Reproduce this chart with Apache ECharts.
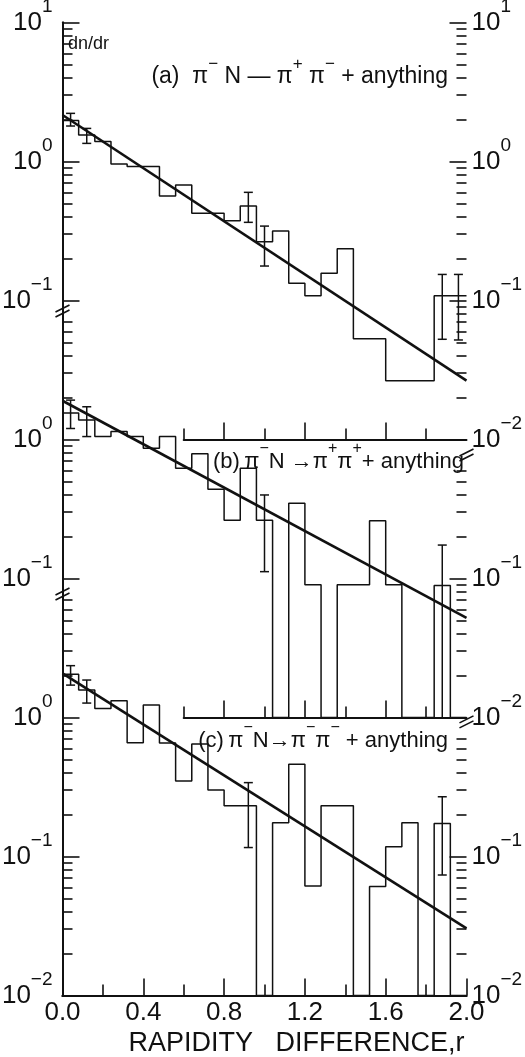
<!DOCTYPE html>
<html>
<head>
<meta charset="utf-8">
<script src="https://cdn.jsdelivr.net/npm/echarts@6/dist/echarts.min.js"></script>
<style>
  html, body { margin: 0; padding: 0; background: #fff; }
  #chart { width: 525px; height: 1057px; }
</style>
</head>
<body>
<div id="chart"></div>
<script>
// dn/dr versus rapidity difference r for three pion-pair charge combinations,
// drawn as three stacked logarithmic panels that share one r axis.

const FLOOR = 0.01;          // bottom of each panel; empty bins are drawn on it
const R_END = 2.0;           // right edge of the last bin

// left edges of the 0.08-wide rapidity bins
const binLeft = [0.00, 0.08, 0.16, 0.24, 0.32, 0.40, 0.48, 0.56, 0.64, 0.72,
                 0.80, 0.88, 0.96, 1.04, 1.12, 1.20, 1.28, 1.36, 1.44, 1.52,
                 1.60, 1.68, 1.76, 1.84, 1.92];

// (a) pi- N -> pi+ pi- + anything
const dnA = [1.97, 1.55, 1.39, 0.96, 0.92, 0.92, 0.565, 0.677, 0.424, 0.424,
             0.375, 0.479, 0.265, 0.316, 0.133, 0.108, 0.157, 0.236, 0.053, 0.053,
             0.0265, 0.0265, 0.0265, 0.108, 0.108];
// (b) pi- N -> pi+ pi+ + anything
const dnB = [1.55, 1.38, 1.05, 1.14, 1.05, 0.864, 1.05, 0.62, 0.79, 0.438,
             0.263, 0.62, 0.263, 0, 0.348, 0.09, 0, 0.09, 0.09, 0.26,
             0.09, 0, 0, 0.089, 0];
// (c) pi- N -> pi- pi- + anything
const dnC = [2.05, 1.58, 1.16, 1.32, 0.659, 1.23, 0.655, 0.349, 0.645, 0.301,
             0.232, 0.232, 0, 0.175, 0.461, 0.0613, 0.232, 0.232, 0, 0.0608,
             0.1175, 0.175, 0, 0.173, 0];

// error bars: [r, low, high]; a low of 0 runs off the bottom of the panel
const errA = [[0.04, 1.80, 2.22], [0.12, 1.35, 1.73], [0.92, 0.365, 0.60],
              [1.00, 0.177, 0.343], [1.88, 0.0526, 0.154], [1.96, 0.052, 0.154]];
const errB = [[0.04, 1.20, 1.92], [0.12, 1.05, 1.72], [1.00, 0.112, 0.399],
              [1.88, 0, 0.174]];
const errC = [[0.04, 1.71, 2.36], [0.12, 1.27, 1.86], [0.92, 0.116, 0.34],
              [1.88, 0.0736, 0.269]];

// exponential fits, given by their end points
const fitA = [[0, 2.16], [2.0, 0.0265]];
const fitB = [[0, 1.90], [2.0, 0.052]];
const fitC = [[0, 2.08], [2.0, 0.0304]];

// tick values of each panel's left / right scale
const leftMajor  = [[10, 1, 0.1], [1, 0.1], [1, 0.1, 0.01]];
const leftMinor  = [
  [9, 8, 7, 6, 5, 4, 3, 2, 0.9, 0.8, 0.7, 0.6, 0.5, 0.4, 0.3, 0.2],
  [7, 6, 5, 4, 3, 2, 0.9, 0.8, 0.7, 0.6, 0.5, 0.4, 0.3, 0.2],
  [7, 6, 5, 4, 3, 2, 0.9, 0.8, 0.7, 0.6, 0.5, 0.4, 0.3, 0.2,
   0.09, 0.08, 0.07, 0.06, 0.05, 0.04, 0.03, 0.02]
];
const rightMajor = [[10, 1, 0.1, 0.01], [0.1, 0.01], [0.1, 0.01]];
const rightMinor = [
  [9, 8, 7, 6, 5, 4, 3, 2, 0.9, 0.8, 0.7, 0.6, 0.5, 0.4, 0.3, 0.2,
   0.09, 0.08, 0.07, 0.06, 0.05, 0.04, 0.03, 0.02],
  [0.6, 0.5, 0.4, 0.3, 0.2, 0.09, 0.08, 0.07, 0.06, 0.05, 0.04, 0.03, 0.02],
  [0.7, 0.6, 0.5, 0.4, 0.3, 0.2, 0.09, 0.08, 0.07, 0.06, 0.05, 0.04, 0.03, 0.02]
];

// short r axes under panels (a) and (b)
const PART_FROM = 0.6;
const partMajor = [0.8, 1.2, 1.6];
const partMinor = [0.6, 1.0, 1.4, 1.8];

const titles = [
  '{t|(a)  \u03c0}{s|\u2212}{t| N \u2014 \u03c0}{s|+}{t| \u03c0}{s|\u2212}{t| + anything}',
  '{t|(b)\u2009\u03c0}{s|\u2212}{t|N \u2192\u03c0}{s|+}{t|\u03c0}{s|+}{t|+ anything}',
  '{t|(c)\u2009\u03c0}{s|\u2212}{t|N\u2192\u03c0}{s|\u2212}{t|\u03c0}{s|\u2212}{t| + anything}'
];

// ---- layout ----
const X0 = 62.5, PW = 404;      // plot left edge and width
const TOP = 22.5, DEC = 139;    // top edge and height of one decade
const INK = '#111';
const FONT = '"Liberation Sans", "DejaVu Sans", Arial, sans-serif';
const MAJOR_LEN = 17, MINOR_LEN = 10;

function stepData(vals) {
  const pts = binLeft.map((r, i) => [r, Math.max(vals[i], FLOOR)]);
  pts.push([R_END, Math.max(vals[vals.length - 1], FLOOR)]);
  return pts;
}

function errData(list) {
  return list.map(e => [e[0], Math.max(e[1], FLOOR), e[2], e[1] > 0 ? 0 : 1]);
}

function renderErr(params, api) {
  const x = api.value(0), lo = api.value(1), hi = api.value(2), open = api.value(3);
  const t = api.coord([x, hi]);
  const b = api.coord([x, lo]);
  const h = 4.5;
  const st = { stroke: INK, lineWidth: 1.5 };
  const children = [
    { type: 'line', shape: { x1: t[0], y1: t[1], x2: b[0], y2: b[1] }, style: st },
    { type: 'line', shape: { x1: t[0] - h, y1: t[1], x2: t[0] + h, y2: t[1] }, style: st }
  ];
  if (!open) {
    children.push({ type: 'line', shape: { x1: b[0] - h, y1: b[1], x2: b[0] + h, y2: b[1] }, style: st });
  }
  return { type: 'group', children };
}

function powLabel(v) {
  const e = Math.round(Math.log10(v));
  return '{b|10}{s|' + (e < 0 ? '\u2212' + (-e) : e) + '}';
}

// base "10" sits on the tick, the exponent is raised about half a digit
const powRich = {
  b: { fontSize: 26, lineHeight: 50, verticalAlign: 'middle', fontFamily: FONT, color: INK },
  s: { fontSize: 19, lineHeight: 19, verticalAlign: 'top', fontFamily: FONT, color: INK }
};

// ---- grids ----
const grids = [{ left: X0, width: PW, top: TOP, height: 7 * DEC }];
for (let k = 0; k < 3; k++) {
  grids.push({ left: X0, width: PW, top: TOP + 2 * k * DEC, height: 3 * DEC });
}
for (let k = 0; k < 2; k++) {
  const l = X0 + PW * PART_FROM / R_END;
  grids.push({ left: l, width: X0 + PW - l, top: TOP + (3 + 2 * k) * DEC - 20, height: 20 });
}
grids.forEach(g => { g.containLabel = false; g.outerBoundsMode = 'none'; g.show = false; });

// ---- x axes ----
const xAxes = [
  { // shared r axis
    type: 'value', gridIndex: 0, position: 'bottom', min: 0, max: R_END, interval: 0.4,
    axisLine: { show: true, lineStyle: { color: INK, width: 2 } },
    axisTick: { show: true, inside: true, length: MAJOR_LEN, lineStyle: { color: INK, width: 1.6 } },
    minorTick: { show: true, splitNumber: 2, length: 11, lineStyle: { color: INK, width: 1.6 } },
    splitLine: { show: false },
    axisLabel: { show: true, margin: 4, formatter: v => v.toFixed(1),
                 fontSize: 26, fontFamily: FONT, color: INK },
    name: 'RAPIDITY   DIFFERENCE,r', nameLocation: 'middle', nameGap: 34,
    nameTextStyle: { fontSize: 27, fontFamily: FONT, color: INK, padding: [0, 0, 0, 64] }
  },
  { // top frame line
    type: 'value', gridIndex: 0, position: 'top', min: 0, max: R_END,
    axisLine: { show: true, lineStyle: { color: INK, width: 2 } },
    axisTick: { show: false }, axisLabel: { show: false }, splitLine: { show: false }
  }
];
for (let k = 0; k < 3; k++) {
  xAxes.push({ type: 'value', gridIndex: 1 + k, min: 0, max: R_END, show: false });
}
for (let k = 0; k < 2; k++) {
  [[partMajor, MAJOR_LEN, true], [partMinor, 11, false]].forEach(([vals, len, line]) => {
    xAxes.push({
      type: 'value', gridIndex: 4 + k, position: 'bottom', min: PART_FROM, max: R_END,
      axisLine: { show: line, lineStyle: { color: INK, width: 2 } },
      axisTick: { show: true, inside: true, length: len, customValues: vals,
                  lineStyle: { color: INK, width: 1.6 } },
      axisLabel: { show: false }, splitLine: { show: false }
    });
  });
}

// ---- y axes ----
const yAxes = [];
['left', 'right'].forEach(pos => {
  yAxes.push({
    type: 'value', gridIndex: 0, position: pos, min: 0, max: 1,
    axisLine: { show: true, lineStyle: { color: INK, width: 2 } },
    axisTick: { show: false }, axisLabel: { show: false }, splitLine: { show: false }
  });
});
function panelAxis(k, pos, vals, major) {
  return {
    type: 'log', logBase: 10, gridIndex: 1 + k, position: pos, min: FLOOR, max: 10,
    axisLine: { show: false },
    splitLine: { show: false },
    minorTick: { show: false },
    axisTick: { show: true, inside: true, length: major ? MAJOR_LEN : MINOR_LEN,
                customValues: vals, lineStyle: { color: INK, width: 1.6 } },
    axisLabel: major
      ? { show: true, customValues: vals, formatter: powLabel, rich: powRich,
          margin: pos === 'left' ? 10 : 5 }
      : { show: false }
  };
}
for (let k = 0; k < 3; k++) {
  yAxes.push(panelAxis(k, 'left', leftMajor[k], true));
  yAxes.push(panelAxis(k, 'left', leftMinor[k], false));
  yAxes.push(panelAxis(k, 'right', rightMajor[k], true));
  yAxes.push(panelAxis(k, 'right', rightMinor[k], false));
}
for (let k = 0; k < 2; k++) {
  yAxes.push({ type: 'value', gridIndex: 4 + k, show: false, min: 0, max: 1 });
}

// ---- series ----
const panels = [
  { dn: dnA, err: errA, fit: fitA },
  { dn: dnB, err: errB, fit: fitB },
  { dn: dnC, err: errC, fit: fitC }
];
const series = [];
panels.forEach((p, k) => {
  const xi = 2 + k, yi = 2 + 4 * k;
  series.push({
    type: 'line', xAxisIndex: xi, yAxisIndex: yi, step: 'end', data: stepData(p.dn),
    symbol: 'none', silent: true, z: 3, lineStyle: { color: INK, width: 1.5 }
  });
  series.push({
    type: 'line', xAxisIndex: xi, yAxisIndex: yi, data: p.fit,
    symbol: 'none', silent: true, z: 4, lineStyle: { color: INK, width: 2.6 }
  });
  series.push({
    type: 'custom', xAxisIndex: xi, yAxisIndex: yi, data: errData(p.err),
    renderItem: renderErr, silent: true, z: 5
  });
});

const chart = echarts.init(document.getElementById('chart'));
chart.setOption({
  animation: false,
  backgroundColor: '#fff',
  grid: grids,
  xAxis: xAxes,
  yAxis: yAxes,
  series: series
});

// ---- annotations ----
const titleRich = size => ({
  t: { fontSize: size, lineHeight: 42, verticalAlign: 'middle', fontFamily: FONT, fill: INK, color: INK },
  s: { fontSize: Math.round(size * 0.72), lineHeight: 16, verticalAlign: 'top', fontFamily: FONT, fill: INK, color: INK }
});
const titlePos = [[448, 77, 23], [464, 462, 22], [448, 741, 22]];
const graphics = titles.map((txt, i) => ({
  type: 'text', x: titlePos[i][0], y: titlePos[i][1], z: 10,
  style: { text: txt, rich: titleRich(titlePos[i][2]), fill: INK,
           align: 'right', verticalAlign: 'middle', textAlign: 'right', textVerticalAlign: 'middle' }
}));
graphics.push({
  type: 'text', x: 68, y: 35, z: 10,
  style: { text: 'dn/dr', fontSize: 18, fontFamily: FONT, fill: INK,
           align: 'left', verticalAlign: 'top', textAlign: 'left', textVerticalAlign: 'top' }
});

// scale breaks on the frame where one panel's scale hands over to the next
const breaks = [
  { side: 'left',  yAxisIndex: 2,  value: 0.084 },
  { side: 'left',  yAxisIndex: 6,  value: 0.0774 },
  { side: 'right', yAxisIndex: 6,  value: 0.774 },
  { side: 'right', yAxisIndex: 10, value: 0.93 }
];
breaks.forEach(b => {
  const y = chart.convertToPixel({ yAxisIndex: b.yAxisIndex }, b.value);
  const x = b.side === 'left' ? X0 : X0 + PW;
  [-2.5, 2.5].forEach(d => {
    graphics.push({
      type: 'line', z: 10,
      shape: { x1: x - 7, y1: y + d + 3.5, x2: x + 7, y2: y + d - 3.5 },
      style: { stroke: INK, lineWidth: 1.6 }
    });
  });
});
chart.setOption({ graphic: graphics });
</script>
</body>
</html>
